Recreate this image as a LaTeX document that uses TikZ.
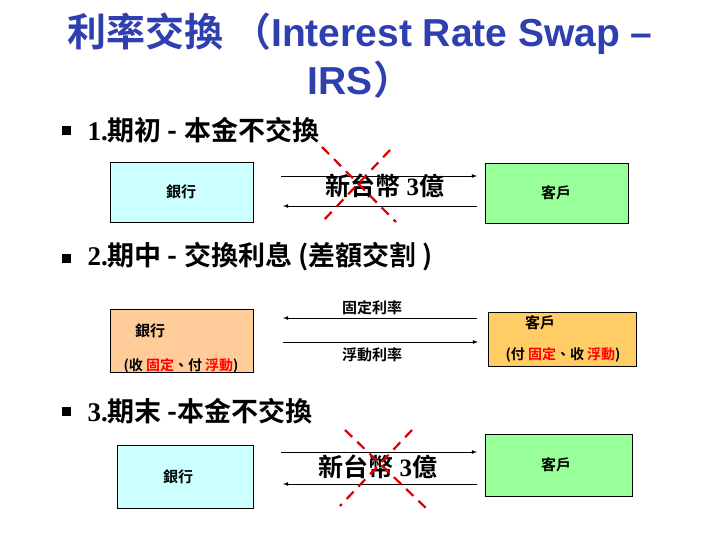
\documentclass[tikz,border=0pt]{standalone}
\usepackage{fontspec}
\setmainfont{Liberation Sans}
\newfontfamily\cjk{Noto Sans CJK TC}[BoldFont={* Bold}]
\newfontfamily\tms{Liberation Serif}
\begin{document}
\begin{tikzpicture}[x=1pt,y=-1pt,
  arr/.style={-latex,line width=0.8pt},
  cross/.style={red!85!black,line width=2.2pt,dash pattern=on 10pt off 7pt},
  lab/.style={font=\cjk\bfseries\fontsize{15}{17}\selectfont},
  sm/.style={font=\cjk\bfseries\fontsize{14}{16}\selectfont},
  big/.style={font=\cjk\bfseries\fontsize{25}{28}\selectfont},
  head/.style={font=\cjk\bfseries\fontsize{27}{30}\selectfont,anchor=west},
  bul/.style={fill=black,minimum size=9pt,inner sep=0pt}]
\useasboundingbox (0,0) rectangle (720,540);
% title
\node (t1) at (360,34) {\color[HTML]{2E3FB0}\cjk\bfseries\fontsize{39}{44}\selectfont 利率交換 （\fontspec{Liberation Sans}\bfseries Interest Rate Swap –};
\node (t2) at (360,80) {\color[HTML]{2E3FB0}\bfseries\fontsize{39}{44}\selectfont IRS\cjk）};
% bullets
\node[bul] (b1) at (66,131) {};
\node[bul] (b2) at (66,258) {};
\node[bul] (b3) at (66,411) {};
\node[head] (h1) at (84,130) {{\tms 1.}期初 - 本金不交換};
\node[head] (h2) at (84,257) {{\tms 2.}期中 - 交換利息 (差額交割 )};
\node[head] (h3) at (84,411) {{\tms 3.}期末 -本金不交換};
% section 1
\draw[fill={rgb,255:red,204;green,255;blue,255}] (110,162) rectangle (253,222);
\node[lab] (bk1) at (181,192) {銀行};
\draw[fill={rgb,255:red,153;green,255;blue,153}] (485,163) rectangle (628,223);
\node[lab] (cu1) at (556,193) {客戶};
\coordinate (a1) at (281,176); \coordinate (a2) at (477,176);
\coordinate (a3) at (477,206); \coordinate (a4) at (283,206);
\draw[arr] (a1) -- (a2);
\draw[arr] (a3) -- (a4);
\node[big] (m1) at (385,186) {新台幣 {\tms 3}億};
\draw[cross] (322,147) -- (396,222);
\draw[cross] (390,150) -- (322,222);
% section 2
\draw[fill={rgb,255:red,255;green,204;blue,153}] (110,309) rectangle (253,372);
\node[lab] (bk2) at (150,331) {銀行};
\node[sm] (bk2b) at (181,366) {(收 \color{red}固定\color{black} 、付 \color{red}浮動\color{black})};
\draw[fill={rgb,255:red,255;green,204;blue,102}] (488,312) rectangle (636,366);
\node[lab] (cu2) at (540,323) {客戶};
\node[sm] (cu2b) at (563,355) {(付 \color{red}固定\color{black}、收 \color{red}浮動\color{black})};
\coordinate (c1) at (477,318); \coordinate (c2) at (283,318);
\coordinate (c3) at (283,342); \coordinate (c4) at (478,342);
\draw[arr] (c1) -- (c2);
\draw[arr] (c3) -- (c4);
\node[lab] (fx) at (372,308) {固定利率};
\node[lab] (fl) at (372,355) {浮動利率};
% section 3
\draw[fill={rgb,255:red,204;green,255;blue,255}] (117,445) rectangle (253,508);
\node[lab] (bk3) at (178,477) {銀行};
\draw[fill={rgb,255:red,153;green,255;blue,153}] (485,434) rectangle (632,496);
\node[lab] (cu3) at (556,465) {客戶};
\coordinate (d1) at (281,452); \coordinate (d2) at (477,452);
\coordinate (d3) at (477,484); \coordinate (d4) at (283,484);
\draw[arr] (d1) -- (d2);
\draw[arr] (d3) -- (d4);
\node[big] (m3) at (378,467) {新台幣 {\tms 3}億};
\draw[cross] (345,430) -- (428,510);
\draw[cross] (412,430) -- (340,506);
\end{tikzpicture}
\end{document}
